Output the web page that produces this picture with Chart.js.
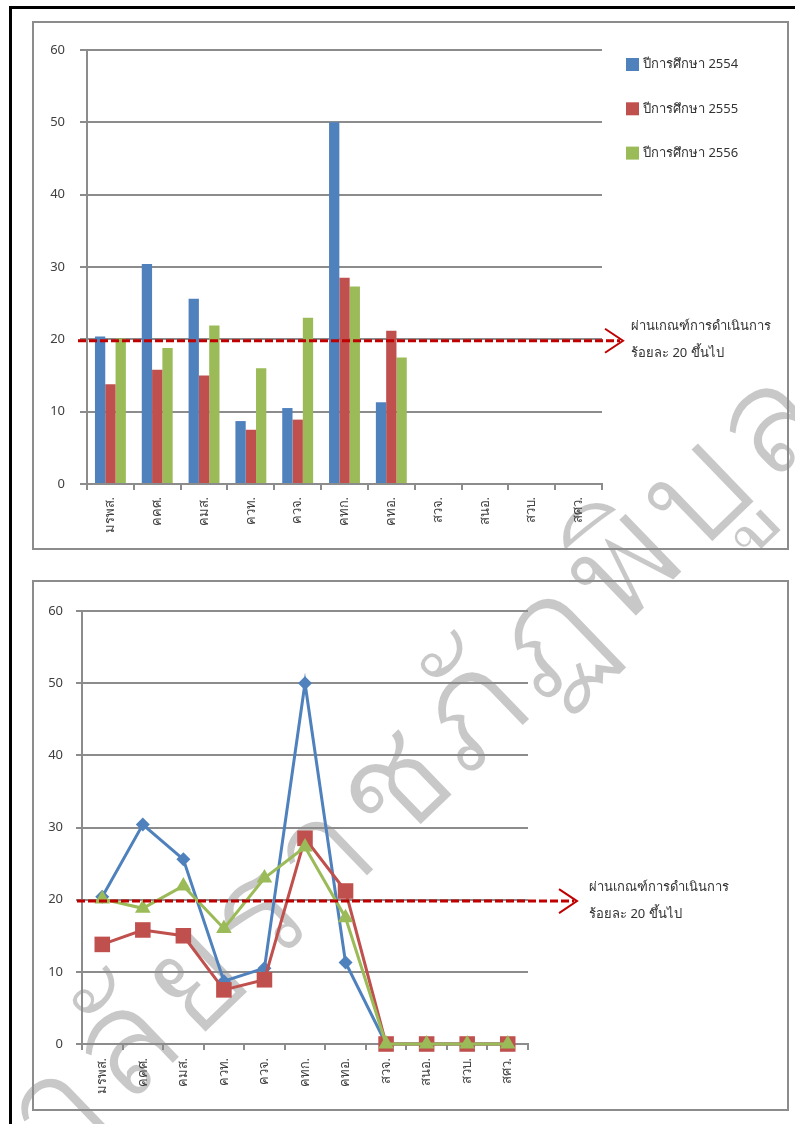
<!DOCTYPE html>
<html>
<head>
<meta charset="utf-8">
<script src="https://cdn.jsdelivr.net/npm/chart.js@4.4.0/dist/chart.umd.min.js"></script>
<style>
  html, body { margin: 0; padding: 0; width: 795px; height: 1124px; overflow: hidden; background: #fff; }
  .page { position: absolute; left: 9px; top: 6px; width: 900px; height: 1200px; border-left: 3px solid #000; border-top: 3px solid #000; }
  .box { position: absolute; left: 32px; width: 753px; border: 2px solid #8c8c8c; }
  #box1 { top: 21px; height: 525px; }
  #box2 { top: 580px; height: 527px; }
  .mark { position: absolute; left: 400px; top: 765px; transform: translate(-50%, -50%) rotate(-44deg);
          font: 150px Tahoma, "Noto Sans", sans-serif; line-height: 1; white-space: nowrap; color: #c8c8c8;
          -webkit-text-stroke: 3px #fff; letter-spacing: 6px; }
  canvas { position: absolute; left: 0; }
  #barChart { top: 0; }
  #lineChart { top: 565px; }
</style>
</head>
<body>
<div class="mark">มหาวิทยาลัยราชภัฏพิบูลสงคราม</div>
<div class="page"></div>
<div class="box" id="box1"></div>
<div class="box" id="box2"></div>
<canvas id="barChart" width="795" height="565"></canvas>
<canvas id="lineChart" width="795" height="559"></canvas>
<script>
const categories = ['มรพส.', 'คคศ.', 'คมส.', 'ควท.', 'ควจ.', 'คทก.', 'คทอ.', 'สวจ.', 'สนอ.', 'สวบ.', 'สศว.'];
const seriesNames = ['ปีการศึกษา 2554', 'ปีการศึกษา 2555', 'ปีการศึกษา 2556'];
const year2554 = [20.4, 30.4, 25.6, 8.7, 10.5, 50.0, 11.3, 0, 0, 0, 0];
const year2555 = [13.8, 15.8, 15.0, 7.5, 8.9, 28.5, 21.2, 0, 0, 0, 0];
const year2556 = [20.1, 18.8, 21.9, 16.0, 23.0, 27.3, 17.5, 0, 0, 0, 0];
const yTicks = [0, 10, 20, 30, 40, 50, 60];
const threshold = 19.8;
const noteLines = ['ผ่านเกณฑ์การดำเนินการ', 'ร้อยละ 20 ขึ้นไป'];

const colors = ['#4F81BD', '#C0504D', '#9BBB59'];
const gridColor = '#8c8c8c';
const textColor = '#404040';
const fontFamily = 'Tahoma, "Noto Sans", "DejaVu Sans", sans-serif';
const tickFont = { family: fontFamily, size: 13 };

// threshold line, arrow, note and legend drawn on top of each chart
const overlay = {
    id: 'overlay',
    afterDraw(chart, args, opts) {
        const ctx = chart.ctx;
        const y = chart.scales.y.getPixelForValue(threshold);
        ctx.save();
        ctx.strokeStyle = '#C00000';
        ctx.lineWidth = 3;
        ctx.setLineDash([8, 3]);
        ctx.beginPath();
        ctx.moveTo(opts.lineStart, y);
        ctx.lineTo(opts.arrowTip - 3, y);
        ctx.stroke();
        ctx.setLineDash([]);
        ctx.lineWidth = 2;
        ctx.beginPath();
        ctx.moveTo(opts.arrowTip - 18, y - 12);
        ctx.lineTo(opts.arrowTip, y);
        ctx.lineTo(opts.arrowTip - 18, y + 12);
        ctx.stroke();

        ctx.fillStyle = '#333';
        ctx.font = '13px ' + fontFamily;
        ctx.textBaseline = 'middle';
        ctx.textAlign = 'left';
        noteLines.forEach((t, i) => ctx.fillText(t, opts.noteX, y - 14 + i * 27));

        chart.data.datasets.forEach((ds, i) => {
            const ly = opts.legendY + i * opts.legendGap;
            if (opts.kind === 'box') {
                ctx.fillStyle = ds.backgroundColor;
                ctx.fillRect(opts.legendX, ly - 6.5, 13, 13);
                ctx.fillStyle = '#333';
                ctx.fillText(ds.label, opts.legendX + 17, ly);
            } else {
                ctx.strokeStyle = ds.borderColor;
                ctx.lineWidth = 3;
                ctx.beginPath();
                ctx.moveTo(opts.legendX, ly);
                ctx.lineTo(opts.legendX + 54, ly);
                ctx.stroke();
                ctx.fillStyle = ds.borderColor;
                Chart.helpers.drawPoint(ctx, {
                    pointStyle: ds.pointStyle,
                    radius: ds.pointRadius * 0.75,
                    rotation: 0,
                    borderWidth: 0
                }, opts.legendX + 27, ly);
                ctx.fillStyle = '#333';
                ctx.fillText(ds.label, opts.legendX + 56, ly);
            }
        });
        ctx.restore();
    }
};

const yScale = (width, tickLength, padding) => ({
    min: 0,
    max: 60,
    afterBuildTicks: s => { s.ticks = yTicks.map(v => ({ value: v })); },
    ticks: { color: textColor, font: tickFont, padding: padding },
    grid: { color: gridColor, lineWidth: 2, tickLength: tickLength },
    border: { color: gridColor, width: 2 },
    afterFit: s => { s.width = width; }
});

const xScale = (padding) => ({
    offset: true,
    ticks: { color: textColor, font: tickFont, minRotation: 90, maxRotation: 90, padding: padding, autoSkip: false },
    grid: { offset: true, drawOnChartArea: false, color: gridColor, lineWidth: 2, tickLength: 6 },
    border: { color: gridColor, width: 2 },
    afterFit: s => { s.height = 60; }
});

new Chart(document.getElementById('barChart'), {
    type: 'bar',
    data: {
        labels: categories,
        datasets: [year2554, year2555, year2556].map((d, i) => ({
            label: seriesNames[i],
            data: d,
            backgroundColor: colors[i],
            borderWidth: 0,
            barPercentage: 1.0,
            categoryPercentage: 0.66
        }))
    },
    options: {
        responsive: false,
        animation: false,
        events: [],
        layout: { padding: { left: 0, right: 193, top: 50, bottom: 21 } },
        plugins: {
            legend: { display: false },
            tooltip: { enabled: false },
            overlay: { lineStart: 78, arrowTip: 623, noteX: 631, legendX: 626, legendY: 64.5, legendGap: 44.3, kind: 'box' }
        },
        scales: { x: xScale(7), y: yScale(87, 7, 15) }
    },
    plugins: [overlay]
});

const markers = ['rectRot', 'rect', 'triangle'];
const markerSizes = [7, 11, 9];

new Chart(document.getElementById('lineChart'), {
    type: 'line',
    data: {
        labels: categories,
        datasets: [year2554, year2555, year2556].map((d, i) => ({
            label: seriesNames[i],
            data: d,
            borderColor: colors[i],
            backgroundColor: colors[i],
            borderWidth: 3,
            pointStyle: markers[i],
            pointRadius: markerSizes[i],
            pointBackgroundColor: colors[i],
            pointBorderColor: colors[i],
            pointBorderWidth: 0,
            tension: 0,
            clip: false,
            order: 3 - i
        }))
    },
    options: {
        responsive: false,
        animation: false,
        events: [],
        layout: { padding: { left: 0, right: 267, top: 46, bottom: 20 } },
        plugins: {
            legend: { display: false },
            tooltip: { enabled: false },
            overlay: { lineStart: 77, arrowTip: 577, noteX: 589, legendX: 592, legendY: 630, legendGap: 45.5, kind: 'line' }
        },
        scales: { x: xScale(8), y: yScale(82, 6, 13) }
    },
    plugins: [overlay]
});
</script>
</body>
</html>
